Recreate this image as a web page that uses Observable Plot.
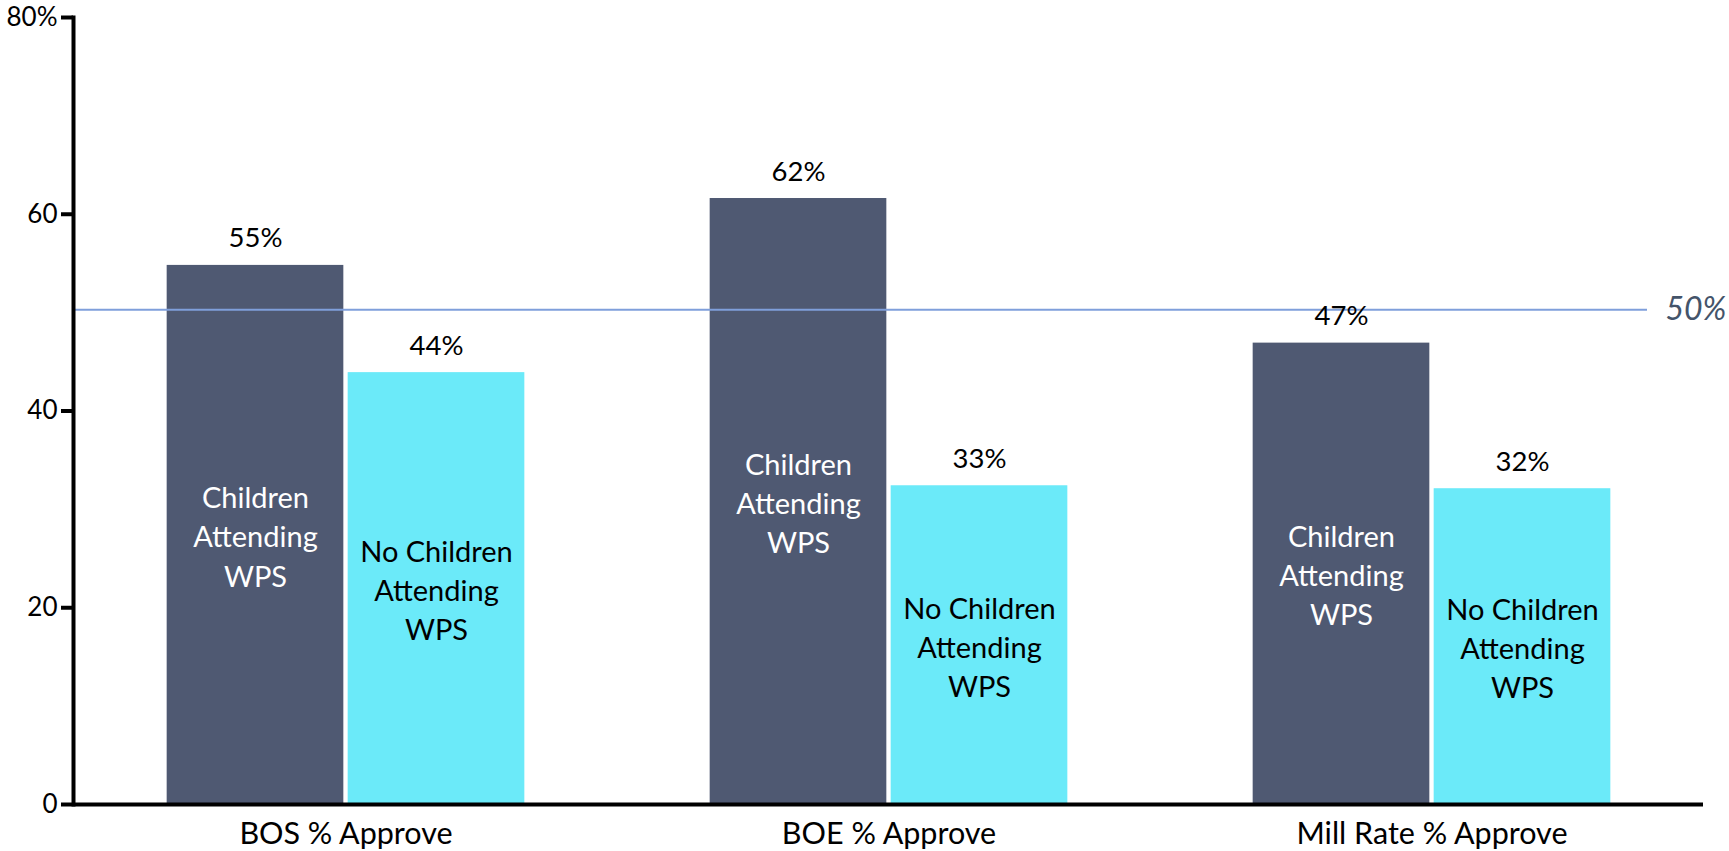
<!DOCTYPE html>
<html>
<head>
<meta charset="utf-8">
<script src="https://cdn.jsdelivr.net/npm/d3@7"></script>
<script src="https://cdn.jsdelivr.net/npm/@observablehq/plot@0.6"></script>
<style>
  html, body { margin: 0; padding: 0; background: #fff; overflow: hidden; }
  #chart svg { display: block; }
</style>
</head>
<body>
<div id="chart"></div>
<script>
// ---- data ----
const categories = ["BOS % Approve", "BOE % Approve", "Mill Rate % Approve"];
const childrenValues = [54.8, 61.6, 46.9];
const noChildrenValues = [43.9, 32.4, 32.1];
const childrenLabels = ["55%", "62%", "47%"];
const noChildrenLabels = ["44%", "33%", "32%"];
const seriesNames = ["Children\nAttending\nWPS", "No Children\nAttending\nWPS"];
const yTicks = [0, 20, 40, 60, 80];
const thresholdValue = 50.3;
const thresholdLabel = "50%";

// ---- layout ----
const W = 1729, H = 851;
const mL = 73, mR = 26, mT = 17, mB = 47;
const band = (W - mL - mR) / categories.length;
const barW = 177, gap = 4;
const outer = (band - 2 * barW - gap) / 2;

const children = categories.map((c, i) => ({cat: c, value: childrenValues[i], label: childrenLabels[i], name: seriesNames[0]}));
const noChildren = categories.map((c, i) => ({cat: c, value: noChildrenValues[i], label: noChildrenLabels[i], name: seriesNames[1]}));

const darkC = "#4f5972", cyanC = "#6beaf9";
const offC = -(band / 2) + outer + barW / 2;       // center offset for children bar
const offN = (band / 2) - outer - barW / 2;        // center offset for no-children bar

const chart = Plot.plot({
  width: W, height: H,
  marginLeft: mL, marginRight: mR, marginTop: mT, marginBottom: mB,
  style: {fontFamily: "Lato, 'Open Sans', sans-serif", background: "#fff", overflow: "visible"},
  x: {domain: categories, padding: 0, axis: null},
  y: {domain: [0, 80], axis: null},
  marks: [
    Plot.barY(children, {x: "cat", y: "value", fill: darkC, insetLeft: outer, insetRight: band - outer - barW}),
    Plot.barY(noChildren, {x: "cat", y: "value", fill: cyanC, insetLeft: outer + barW + gap, insetRight: outer}),
    Plot.ruleY([thresholdValue], {stroke: "#7f9fdb", strokeWidth: 2, insetRight: 56}),
    Plot.text([thresholdValue], {y: d => d, text: () => thresholdLabel, frameAnchor: "right", textAnchor: "start", dx: -38, fontSize: 32, fontStyle: "italic", fill: "#44546a"}),
    Plot.text(children, {x: "cat", y: "value", text: "label", dx: offC, dy: -18, lineAnchor: "bottom", fontSize: 27.5, fill: "#000"}),
    Plot.text(noChildren, {x: "cat", y: "value", text: "label", dx: offN, dy: -18, lineAnchor: "bottom", fontSize: 27.5, fill: "#000"}),
    Plot.text(children, {x: "cat", y: d => d.value / 2, text: "name", dx: offC, lineAnchor: "middle", lineHeight: 1.35, fontSize: 29, fill: "#fff"}),
    Plot.text(noChildren, {x: "cat", y: d => d.value / 2, text: "name", dx: offN, lineAnchor: "middle", lineHeight: 1.35, fontSize: 29, fill: "#000"}),
    Plot.ruleY([0], {stroke: "#000", strokeWidth: 4}),
    Plot.frame({anchor: "left", stroke: "#000", strokeWidth: 4}),
    Plot.axisY({ticks: yTicks, tickFormat: d => d === 80 ? "80%" : String(d), tickSize: 12, tickPadding: 4, strokeWidth: 4, fontSize: 26, color: "#000", label: null}),
    Plot.axisX({tickSize: 0, tickPadding: 18, fontSize: 30.5, color: "#000", label: null})
  ]
});
document.getElementById("chart").appendChild(chart);
</script>
</body>
</html>
